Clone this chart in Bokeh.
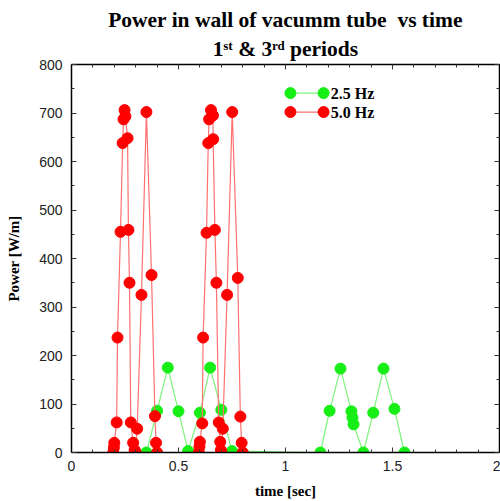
from bokeh.plotting import figure
from bokeh.models import Range1d, LinearAxis, Label, FixedTicker, Title
from bokeh.embed import file_html
from bokeh.resources import INLINE

# ---- data ----
t_25hz = [0.350, 0.400, 0.450, 0.500, 0.545, 0.600, 0.648, 0.700, 0.750,
          1.163, 1.206, 1.257, 1.308, 1.313, 1.318, 1.364, 1.410, 1.458, 1.509, 1.556]
p_25hz = [0, 86, 175, 85, 3, 82, 175, 88, 3,
          0, 86, 173, 85, 72, 58, 0, 82, 173, 90, 0]

t_50hz = [0.195, 0.198, 0.200, 0.211, 0.215, 0.229, 0.239, 0.243, 0.248, 0.252,
          0.262, 0.266, 0.271, 0.277, 0.288, 0.295, 0.300, 0.307, 0.327, 0.350,
          0.374, 0.390, 0.395, 0.400,
          0.595, 0.598, 0.600, 0.611, 0.615, 0.631, 0.639, 0.643, 0.652, 0.661,
          0.662, 0.670, 0.677, 0.688, 0.695, 0.698, 0.700, 0.707, 0.727, 0.751,
          0.777, 0.789, 0.795, 0.800]
p_50hz = [0, 10, 20, 62, 237, 455, 638, 687, 706, 693,
          648, 459, 350, 62, 20, 5, 0, 49, 325, 702,
          366, 75, 20, 0,
          0, 12, 22, 60, 237, 453, 638, 687, 706, 695,
          646, 459, 350, 62, 22, 5, 0, 49, 325, 702,
          360, 74, 20, 0]

x_ticks = [0, 0.5, 1, 1.5, 2]
x_minor = [0.1, 0.2, 0.3, 0.4, 0.6, 0.7, 0.8, 0.9, 1.1, 1.2, 1.3, 1.4, 1.6, 1.7, 1.8, 1.9]
y_ticks = [0, 100, 200, 300, 400, 500, 600, 700, 800]
y_minor = [50, 150, 250, 350, 450, 550, 650, 750]

series_labels = ["2.5 Hz", "5.0 Hz"]
title_line1 = "Power in wall of vacumm tube \u00a0vs time"
title_line2 = "1\u02e2\u1d57 & 3\u02b3\u1d48 periods"

GREEN, GREEN_LINE = "#16ee16", "#7cf57c"
RED, RED_LINE = "#ff0000", "#ff7070"

SERIF = "Liberation Serif, DejaVu Serif"
SANS = "Liberation Sans"

p = figure(width=500, height=501, output_backend="svg", toolbar_location=None,
           x_range=Range1d(0, 2), y_range=Range1d(0, 800),
           min_border_left=71, min_border_right=1, min_border_top=64, min_border_bottom=48)
p.xgrid.visible = False
p.ygrid.visible = False
p.outline_line_color = "black"
p.background_fill_color = "white"
p.border_fill_color = "white"

def style_axis(ax, ticker, show_labels):
    ax.ticker = ticker
    ax.axis_line_color = "black"
    ax.axis_line_width = 1.5
    ax.major_tick_in = 5
    ax.major_tick_out = 0
    ax.minor_tick_in = 3
    ax.minor_tick_out = 0
    ax.major_tick_line_color = "#333333"
    ax.minor_tick_line_color = "#333333"
    if show_labels:
        ax.major_label_text_font = SANS
        ax.major_label_text_font_size = "14px"
        ax.major_label_text_color = "#222222"
    else:
        ax.major_label_overrides = {t: "" for t in ticker.ticks}
        ax.major_label_standoff = 0

xt = FixedTicker(ticks=x_ticks, minor_ticks=x_minor)
yt = FixedTicker(ticks=y_ticks, minor_ticks=y_minor)

style_axis(p.xaxis[0], xt, True)
style_axis(p.yaxis[0], yt, True)
p.xaxis[0].major_label_overrides = {0: "0", 0.5: "0.5", 1: "1", 1.5: "1.5", 2: "2"}
p.xaxis[0].major_label_standoff = 8
p.yaxis[0].major_label_standoff = 9
p.xaxis[0].axis_label = "time [sec]"
p.yaxis[0].axis_label = "Power [W/m]"
for ax in (p.xaxis[0], p.yaxis[0]):
    ax.axis_label_text_font = SERIF
    ax.axis_label_text_font_style = "bold"
    ax.axis_label_text_font_size = "15px"
    ax.axis_label_text_color = "black"
p.xaxis[0].axis_label_standoff = 9
p.yaxis[0].axis_label_standoff = 14

top = LinearAxis()
right = LinearAxis()
style_axis(top, FixedTicker(ticks=x_ticks, minor_ticks=x_minor), False)
style_axis(right, FixedTicker(ticks=y_ticks, minor_ticks=y_minor), False)
p.add_layout(top, "above")
p.add_layout(right, "right")

# ---- title: two stacked titles (second line added first: it sits nearest the frame) ----
p.add_layout(Title(text=title_line2, align="center", text_font=SERIF, text_font_style="bold",
                   text_font_size="21.5px", text_color="black", standoff=7), "above")
p.add_layout(Title(text=title_line1, align="center", text_font=SERIF, text_font_style="bold",
                   text_font_size="21.5px", text_color="black", standoff=0), "above")

# ---- series ----
p.line(t_25hz, p_25hz, line_color=GREEN_LINE, line_width=1.2)
p.scatter(t_25hz, p_25hz, size=11, fill_color=GREEN, line_color=GREEN)
p.line(t_50hz, p_50hz, line_color=RED_LINE, line_width=1.2)
p.scatter(t_50hz, p_50hz, size=11, fill_color=RED, line_color=RED)

# ---- legend (drawn like the original: dot - line - dot) ----
leg_x = [1.023, 1.178]
leg_y = [741, 702]
for yy, lc, mc, lab in zip(leg_y, [GREEN_LINE, RED_LINE], [GREEN, RED], series_labels):
    p.line(leg_x, [yy, yy], line_color=lc, line_width=1.2)
    p.scatter(leg_x, [yy, yy], size=11, fill_color=mc, line_color=mc)
    p.add_layout(Label(x=1.212, y=yy, text=lab, text_font=SERIF, text_font_style="bold",
                       text_font_size="16px", text_baseline="middle", text_color="black"))

open("out.html", "w").write(file_html(p, INLINE))
